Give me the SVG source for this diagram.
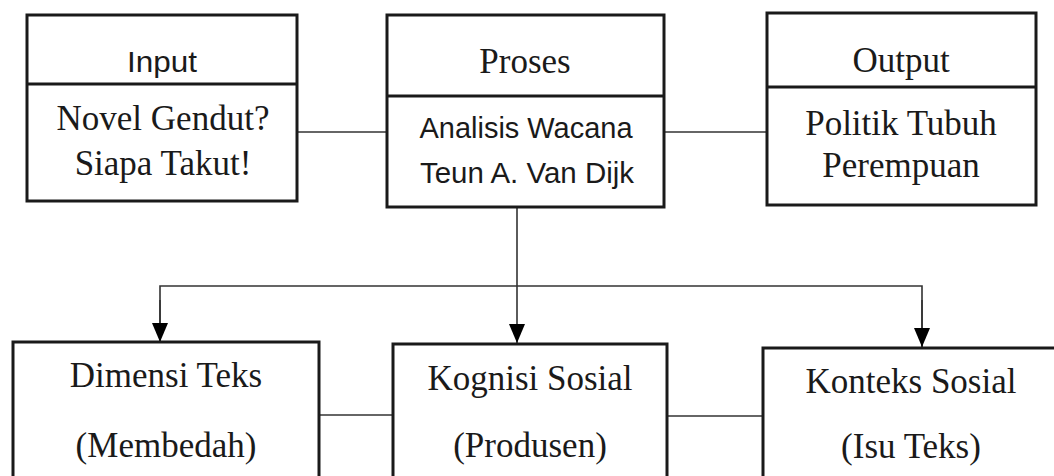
<svg xmlns="http://www.w3.org/2000/svg" width="1054" height="476" viewBox="0 0 1054 476">
<style>
.box{fill:#fff;stroke:#1a1a1a;stroke-width:3}
.div{stroke:#1a1a1a;stroke-width:3}
.con{fill:none;stroke:#333;stroke-width:1.6}
.serif{font-family:"Liberation Serif","Times New Roman",serif;font-size:35px;fill:#1a1a1a;text-anchor:middle}
.sans{font-family:"Liberation Sans",Arial,sans-serif;font-size:29px;fill:#1a1a1a;text-anchor:middle}
</style>
<defs>
<marker id="arr" markerUnits="userSpaceOnUse" markerWidth="19" markerHeight="16" refX="19" refY="8" orient="auto">
<path d="M0,0 L19,8 L0,16 Z" fill="#000"/>
</marker>
</defs>
<rect width="1054" height="476" fill="#fff"/>
<g id="connectors">
<line class="con" x1="297" y1="132" x2="387" y2="132"/>
<line class="con" x1="664" y1="132" x2="767" y2="132"/>
<line class="con" x1="517" y1="207" x2="517" y2="343" marker-end="url(#arr)"/>
<path class="con" d="M160,342 L160,286 L922,286 L922,347"/>
<line class="con" x1="160" y1="300" x2="160" y2="342" marker-end="url(#arr)"/>
<line class="con" x1="922" y1="300" x2="922" y2="347" marker-end="url(#arr)"/>
<line class="con" x1="319" y1="415" x2="393" y2="415"/>
<line class="con" x1="667" y1="416" x2="763" y2="416"/>
</g>
<g id="input">
<rect class="box" x="27" y="15" width="270" height="186"/>
<line class="div" x1="27" y1="84" x2="297" y2="84"/>
<text class="sans" x="162" y="72" textLength="70" lengthAdjust="spacingAndGlyphs">Input</text>
<text class="serif" x="163" y="130">Novel Gendut?</text>
<text class="serif" x="163" y="175">Siapa Takut!</text>
</g>
<g id="proses">
<rect class="box" x="387" y="15" width="277" height="192"/>
<line class="div" x1="387" y1="96" x2="664" y2="96"/>
<text class="serif" x="525" y="73">Proses</text>
<text class="sans" x="526" y="138" textLength="213" lengthAdjust="spacingAndGlyphs">Analisis Wacana</text>
<text class="sans" x="527" y="183" textLength="214" lengthAdjust="spacingAndGlyphs">Teun A. Van Dijk</text>
</g>
<g id="output">
<rect class="box" x="767" y="13" width="269" height="192"/>
<line class="div" x1="767" y1="87" x2="1036" y2="87"/>
<text class="serif" x="901" y="72">Output</text>
<text class="serif" x="901" y="135">Politik Tubuh</text>
<text class="serif" x="901" y="177">Perempuan</text>
</g>
<g id="dimensi">
<rect class="box" x="13" y="342" width="306" height="150"/>
<text class="serif" x="166" y="387">Dimensi Teks</text>
<text class="serif" x="166" y="457">(Membedah)</text>
</g>
<g id="kognisi">
<rect class="box" x="393" y="344" width="274" height="150"/>
<text class="serif" x="530" y="390">Kognisi Sosial</text>
<text class="serif" x="530" y="457">(Produsen)</text>
</g>
<g id="konteks">
<rect class="box" x="763" y="348" width="320" height="150"/>
<text class="serif" x="911" y="393">Konteks Sosial</text>
<text class="serif" x="911" y="458">(Isu Teks)</text>
</g>
</svg>
